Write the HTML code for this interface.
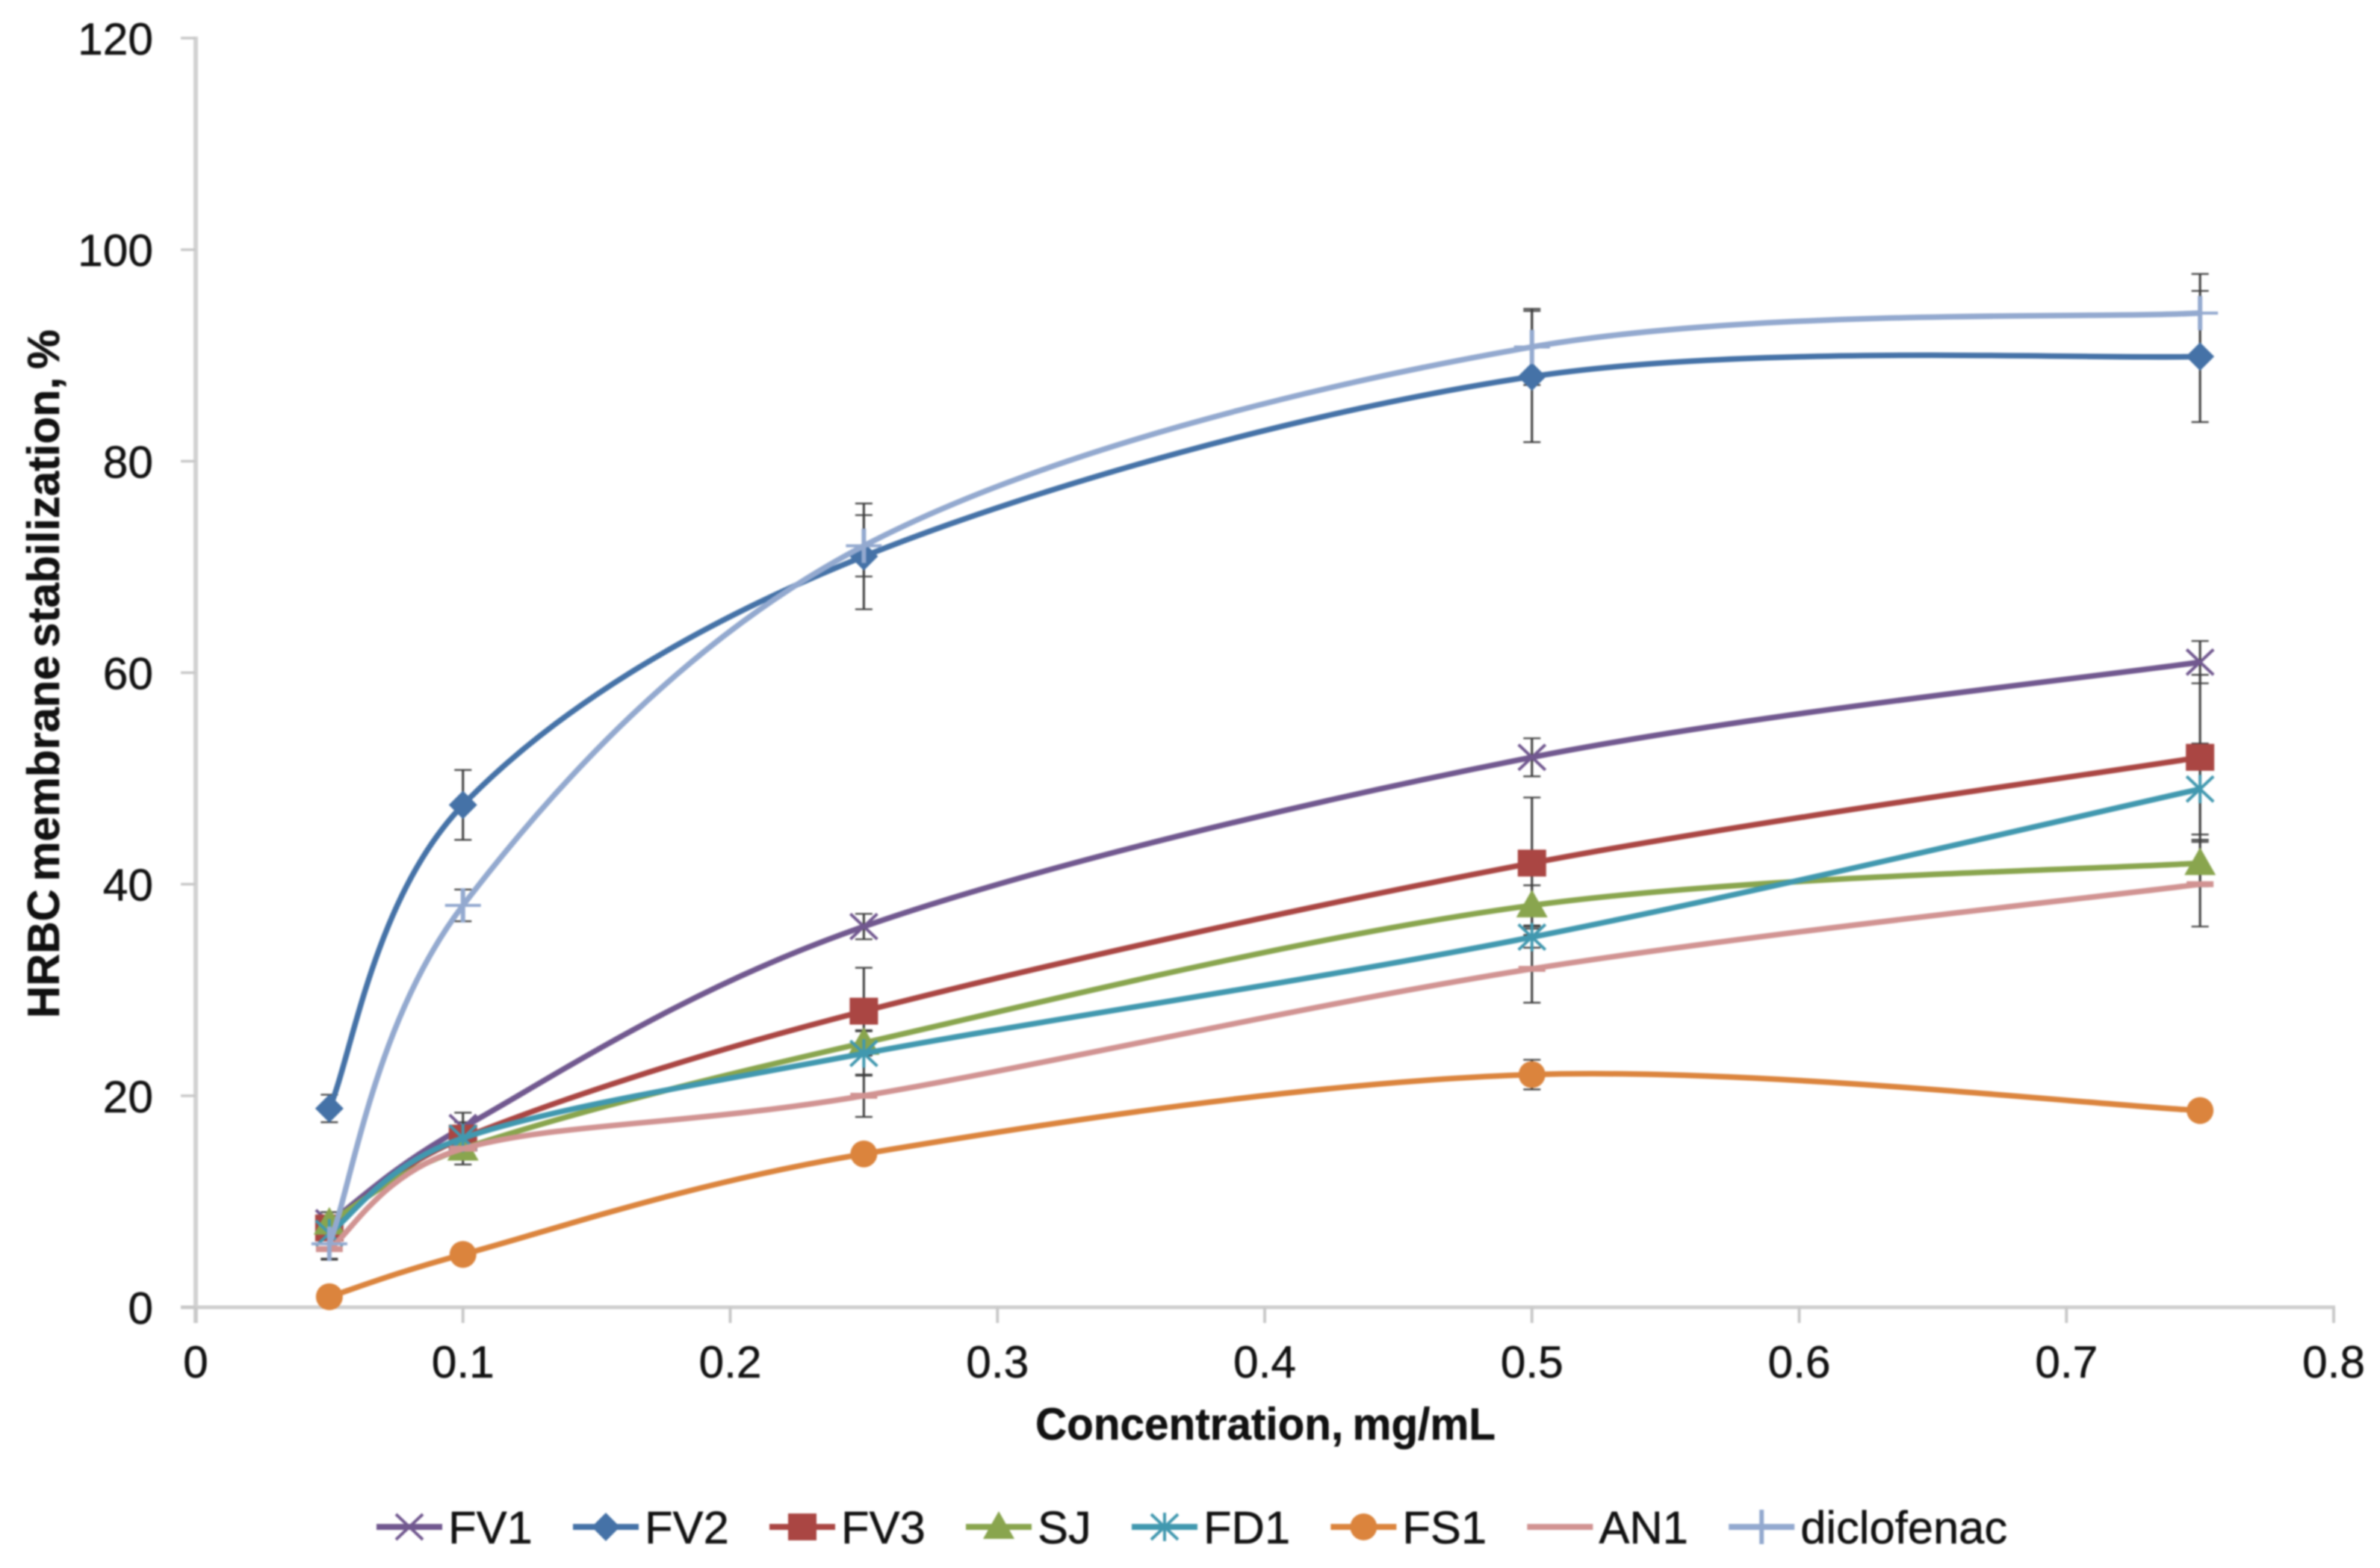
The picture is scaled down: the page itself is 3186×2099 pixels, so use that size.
<!DOCTYPE html>
<html lang="en">
<head>
<meta charset="utf-8">
<title>HRBC membrane stabilization chart</title>
<style>
  html, body { margin: 0; padding: 0; background: #ffffff; }
  svg { display: block; filter: blur(1px); }
  text { font-family: "Liberation Sans", Arial, sans-serif; fill: #111111; stroke: #111111; stroke-width: 0.5px; }
</style>
</head>
<body>
<svg id="chart" xmlns="http://www.w3.org/2000/svg" width="3186" height="2099" viewBox="0 0 3186 2099">
  <rect x="0" y="0" width="3186" height="2099" fill="#ffffff"/>
  <text transform="translate(79 902) rotate(-90)" text-anchor="middle" font-size="60" font-weight="700" word-spacing="-6" textLength="922" lengthAdjust="spacingAndGlyphs">HRBC membrane stabilization, %</text>
  <text x="1694" y="1927" text-anchor="middle" font-size="60" font-weight="700" word-spacing="-4" textLength="616" lengthAdjust="spacingAndGlyphs">Concentration, mg/mL</text>
</svg>
<script>
const xTickValues = [0, 0.1, 0.2, 0.3, 0.4, 0.5, 0.6, 0.7, 0.8];
const yTickValues = [0, 20, 40, 60, 80, 100, 120];
const concentrations = [0.05, 0.1, 0.25, 0.5, 0.75];

const fv1Values = [8, 17, 36, 52, 61];
const fv2Values = [18.8, 47.5, 71, 88, 89.9];
const fv3Values = [7.5, 16, 28, 42, 52];
const sjValues = [8, 15, 25, 38, 42];
const fd1Values = [7, 16, 24, 35, 49];
const fs1Values = [1, 5, 14.5, 22, 18.6];
const an1Values = [5.5, 15, 20, 32, 40];
const diclofenacValues = [6, 38, 72, 90.8, 94];

const fv1Errors = [1, 1.4, 1.2, 1.8, 2];
const fv2Errors = [1.3, 3.3, 5, 6.2, 6.2];
const fv3Errors = [1, 1.5, 4.1, 6.2, 7.8];
const sjErrors = [1, 1.5, 1.2, 1.9, 2.2];
const fd1Errors = [1, 1, 2.1, 1, 4.3];
const fs1Errors = [0.5, 0.6, 0.8, 1.4, 0.8];
const an1Errors = [1, 1, 2, 3.2, 4];
const diclofenacErrors = [1.4, 1.5, 2.9, 3.6, 3.7];

const seriesNames = ['FV1', 'FV2', 'FV3', 'SJ', 'FD1', 'FS1', 'AN1', 'diclofenac'];
const seriesValues = [fv1Values, fv2Values, fv3Values, sjValues, fd1Values, fs1Values, an1Values, diclofenacValues];
const seriesErrors = [fv1Errors, fv2Errors, fv3Errors, sjErrors, fd1Errors, fs1Errors, an1Errors, diclofenacErrors];
const seriesColors = ['#71588F', '#4572A7', '#AA4643', '#89A54E', '#4198AF', '#DB843D', '#D19392', '#93A9CF'];
const seriesMarkers = ['x', 'diamond', 'square', 'triangle', 'star', 'circle', 'dash', 'plus'];

const svg = document.getElementById('chart');
const NS = 'http://www.w3.org/2000/svg';

function xScale(v) { return 262 + v * 3577.5; }
function yScale(v) { return 1750 - v * 14.158; }

function make(tag, attrs, parent) {
  const el = document.createElementNS(NS, tag);
  for (const k in attrs) el.setAttribute(k, attrs[k]);
  (parent || svg).appendChild(el);
  return el;
}

function dist(a, b) { return Math.hypot(a[0] - b[0], a[1] - b[1]); }

function smoothPath(pts) {
  let d = 'M' + pts[0][0] + ' ' + pts[0][1];
  for (let i = 0; i < pts.length - 1; i++) {
    const p0 = pts[Math.max(i - 1, 0)];
    const p1 = pts[i];
    const p2 = pts[i + 1];
    const p3 = pts[Math.min(i + 2, pts.length - 1)];
    const seg = dist(p1, p2);
    const d02 = dist(p0, p2);
    const d13 = dist(p1, p3);
    const f1 = Math.min(1 / 6, seg / (2 * d02));
    const f2 = Math.min(1 / 6, seg / (2 * d13));
    const c1x = p1[0] + (p2[0] - p0[0]) * f1;
    const c1y = p1[1] + (p2[1] - p0[1]) * f1;
    const c2x = p2[0] - (p3[0] - p1[0]) * f2;
    const c2y = p2[1] - (p3[1] - p1[1]) * f2;
    d += ' C' + c1x + ' ' + c1y + ' ' + c2x + ' ' + c2y + ' ' + p2[0] + ' ' + p2[1];
  }
  return d;
}

function drawMarker(kind, cx, cy, color, parent, name) {
  const g = make('g', {}, parent);
  
  
  if (kind === 'diamond') {
    make('polygon', { points: [cx - 19, cy, cx, cy - 19, cx + 19, cy, cx, cy + 19].join(' '), fill: color }, g);
  } else if (kind === 'square') {
    make('rect', { x: cx - 19, y: cy - 18, width: 38, height: 36, fill: color }, g);
  } else if (kind === 'triangle') {
    make('polygon', { points: [cx - 21, cy + 16, cx, cy - 21, cx + 21, cy + 16].join(' '), fill: color }, g);
  } else if (kind === 'circle') {
    make('circle', { cx: cx, cy: cy, r: 18, fill: color }, g);
  } else if (kind === 'x' || kind === 'star') {
    const s = { stroke: color, 'stroke-width': 4, fill: 'none' };
    make('line', Object.assign({ x1: cx - 18, y1: cy - 17, x2: cx + 18, y2: cy + 17 }, s), g);
    make('line', Object.assign({ x1: cx - 18, y1: cy + 17, x2: cx + 18, y2: cy - 17 }, s), g);
    if (kind === 'star') {
      make('line', Object.assign({ x1: cx, y1: cy - 19, x2: cx, y2: cy + 19 }, s), g);
    }
  } else if (kind === 'dash') {
    make('line', { x1: cx - 18, y1: cy, x2: cx + 18, y2: cy, stroke: color, 'stroke-width': 8 }, g);
  } else if (kind === 'plus') {
    make('line', { x1: cx - 24, y1: cy, x2: cx + 24, y2: cy, stroke: color, 'stroke-width': 4 }, g);
    make('line', { x1: cx, y1: cy - 23, x2: cx, y2: cy + 23, stroke: color, 'stroke-width': 6 }, g);
  }
  return g;
}

/* axes */
const axes = make('g', {});



const yAxisLine = make('line', { x1: xScale(0), y1: yScale(120) - 2, x2: xScale(0), y2: yScale(0) + 21, stroke: '#D2D2D2', 'stroke-width': 6 }, axes);



const xAxisLine = make('line', { x1: xScale(0) - 20, y1: yScale(0), x2: xScale(0.8) + 2, y2: yScale(0), stroke: '#CECECE', 'stroke-width': 5 }, axes);



yTickValues.forEach(function (v) {
  const tick = make('line', { x1: xScale(0) - 20, y1: yScale(v), x2: xScale(0), y2: yScale(v), stroke: '#C8C8C8', 'stroke-width': 3.5 }, axes);
  
  
  const label = make('text', { x: 205, y: yScale(v) + 22, 'text-anchor': 'end', 'font-size': 60.5 }, axes);
  label.textContent = String(v);
  
  
});

xTickValues.forEach(function (v) {
  const tick = make('line', { x1: xScale(v), y1: yScale(0), x2: xScale(v), y2: yScale(0) + 21, stroke: '#C8C8C8', 'stroke-width': 4 }, axes);
  
  
  const label = make('text', { x: xScale(v), y: 1844, 'text-anchor': 'middle', 'font-size': 60.5 }, axes);
  label.textContent = String(v);
  
  
});

/* error bars sit behind every series */
const errorLayer = make('g', {});



seriesNames.forEach(function (name, s) {
  concentrations.forEach(function (c, i) {
    const cx = xScale(c);
    const top = yScale(seriesValues[s][i] + seriesErrors[s][i]);
    const bottom = yScale(seriesValues[s][i] - seriesErrors[s][i]);
    const bar = make('g', { stroke: '#3C3C3C', fill: 'none' }, errorLayer);
    
    
    make('line', { x1: cx, y1: top, x2: cx, y2: bottom, 'stroke-width': 3 }, bar);
    make('line', { x1: cx - 11.5, y1: top, x2: cx + 11.5, y2: top, 'stroke-width': 2.2 }, bar);
    make('line', { x1: cx - 11.5, y1: bottom, x2: cx + 11.5, y2: bottom, 'stroke-width': 2.2 }, bar);
  });
});

/* series */
seriesNames.forEach(function (name, s) {
  const key = name.toLowerCase();
  const group = make('g', {});
  
  

  const pts = concentrations.map(function (c, i) { return [xScale(c), yScale(seriesValues[s][i])]; });
  const line = make('path', { d: smoothPath(pts), fill: 'none', stroke: seriesColors[s], 'stroke-width': 7.5, 'stroke-linejoin': 'round' }, group);
  
  

  pts.forEach(function (p) {
    drawMarker(seriesMarkers[s], p[0], p[1], seriesColors[s], group, 'point-' + key);
  });
});

/* legend */
const legend = make('g', {});



let legendX = 504;
seriesNames.forEach(function (name, s) {
  const key = name.toLowerCase();
  const entry = make('g', {}, legend);
  
  
  const swatch = make('line', { x1: legendX, y1: 2044, x2: legendX + 88, y2: 2044, stroke: seriesColors[s], 'stroke-width': 8 }, entry);
  
  
  drawMarker(seriesMarkers[s], legendX + 44, 2044, seriesColors[s], entry, 'legend-marker-' + key);
  const label = make('text', { x: legendX + 96, y: 2066, 'font-size': 61.5 }, entry);
  label.textContent = name;
  
  
  legendX = legendX + 96 + label.getComputedTextLength() + 54.2;
});
</script>
</body>
</html>
